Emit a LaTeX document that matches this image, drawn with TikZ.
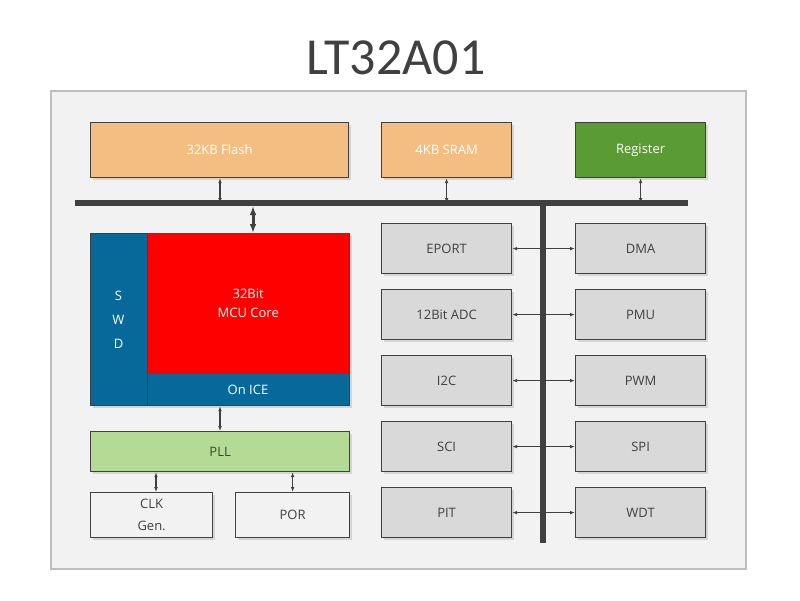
\documentclass[tikz,border=0pt]{standalone}
\usepackage{fontspec}
\setmainfont{Open Sans}
\newfontfamily\titlefont{Carlito}
\usetikzlibrary{positioning}
\usetikzlibrary{shadows}
\usetikzlibrary{arrows.meta}
\definecolor{frameback}{HTML}{F2F2F2}
\definecolor{framedraw}{HTML}{BFBFBF}
\definecolor{memfill}{HTML}{F4BE82}
\definecolor{regfill}{HTML}{5B9B33}
\definecolor{perifill}{HTML}{D9D9D9}
\definecolor{corefill}{HTML}{FF0000}
\definecolor{icefill}{HTML}{07689A}
\definecolor{pllfill}{HTML}{B3DB95}
\definecolor{busdraw}{HTML}{404040}
\tikzset{
  block/.style={draw=busdraw, line width=1.2pt, anchor=north west, inner sep=0pt,
    font=\fontsize{13}{16}\selectfont, text=busdraw, drop shadow={opacity=0.25, shadow xshift=2pt, shadow yshift=-2pt}},
  mem/.style={block, fill=memfill, text=white},
  peri/.style={block, fill=perifill, minimum width=130pt, minimum height=50pt},
  link/.style={draw=busdraw, line width=1.5pt, {Latex[length=5pt]}-{Latex[length=5pt]}},
  bus/.style={draw=busdraw, line width=6pt},
}
\begin{document}
\begin{tikzpicture}[x=1pt, y=-1pt]
  \useasboundingbox (0,0) rectangle (800,600);
  \node[font=\titlefont\fontsize{52}{60}\selectfont, text=busdraw] (title) at (396,58) {LT32A01};
  \node[draw=framedraw, line width=1.5pt, fill=frameback, anchor=north west, minimum width=695pt, minimum height=478pt] (frame) at (50,90) {};

  % memories and registers
  \node[mem, minimum width=258pt, minimum height=55pt] (flash) at (90,122) {32KB Flash};
  \node[mem, minimum width=130pt, minimum height=55pt] (sram) at (381,122) {4KB SRAM};
  \node[mem, fill=regfill, minimum width=130pt, minimum height=55pt] (reg) at (575,122) {Register};

  % bus
  \coordinate (bus west) at (75,203);
  \coordinate (bus east) at (688,203);
  \coordinate (bus top) at (543,200);
  \coordinate (bus bottom) at (543,543);
  \draw[bus] (bus west) -- (bus east);
  \draw[bus] (bus top) -- (bus bottom);

  % core
  \node[block, fill=icefill, minimum width=259pt, minimum height=172pt] (core) at (90,233) {};
  \node[anchor=north west, fill=corefill, minimum width=202pt, minimum height=141pt, inner sep=0pt,
    text=white, font=\fontsize{13}{19}\selectfont, align=center] (mcu) at (147,233) {32Bit\\MCU Core};
  \draw[busdraw, line width=1pt] (147,233) -- (147,405);
  \node[text=white, font=\fontsize{13}{16}\selectfont] (ice) at (248,390) {On ICE};
  \node[text=white, font=\fontsize{13}{24}\selectfont, align=center] (swd) at (118.5,320) {S\\W\\D};

  % clocks
  \node[block, fill=pllfill, minimum width=259pt, minimum height=40pt] (pll) at (90,431) {PLL};
  \node[block, fill=frameback, minimum width=122pt, minimum height=45pt, align=center, font=\fontsize{13}{22}\selectfont] (clk) at (90,492) {CLK\\Gen.};
  \node[block, fill=frameback, minimum width=114pt, minimum height=45pt] (por) at (235,492) {POR};

  % peripherals
  \foreach \name/\left/\right [count=\i from 0] in {eport/EPORT/DMA, adc/12Bit ADC/PMU, itwoc/I2C/PWM, sci/SCI/SPI, pit/PIT/WDT} {
    \node[peri] (\name L) at (381,223+66*\i) {\left};
    \node[peri] (\name R) at (575,223+66*\i) {\right};
    \draw[link] (\name L.east) -- (\name R.west);
  }

  % connectors
  \draw[link] (flash.south -| 220,0) -- (220,203);
  \draw[link] (sram.south) -- (sram.south |- bus west);
  \draw[link] (reg.south) -- (reg.south |- bus west);
  \draw[link, line width=3pt, {Latex[length=9pt]}-{Latex[length=9pt]}] (253,206) -- (core.north -| 253,0);
  \draw[link] (core.south -| 220,0) -- (pll.north -| 220,0);
  \draw[link] (pll.south -| 156,0) -- (clk.north -| 156,0);
  \draw[link] (pll.south -| por.north) -- (por.north);
\end{tikzpicture}
\end{document}
